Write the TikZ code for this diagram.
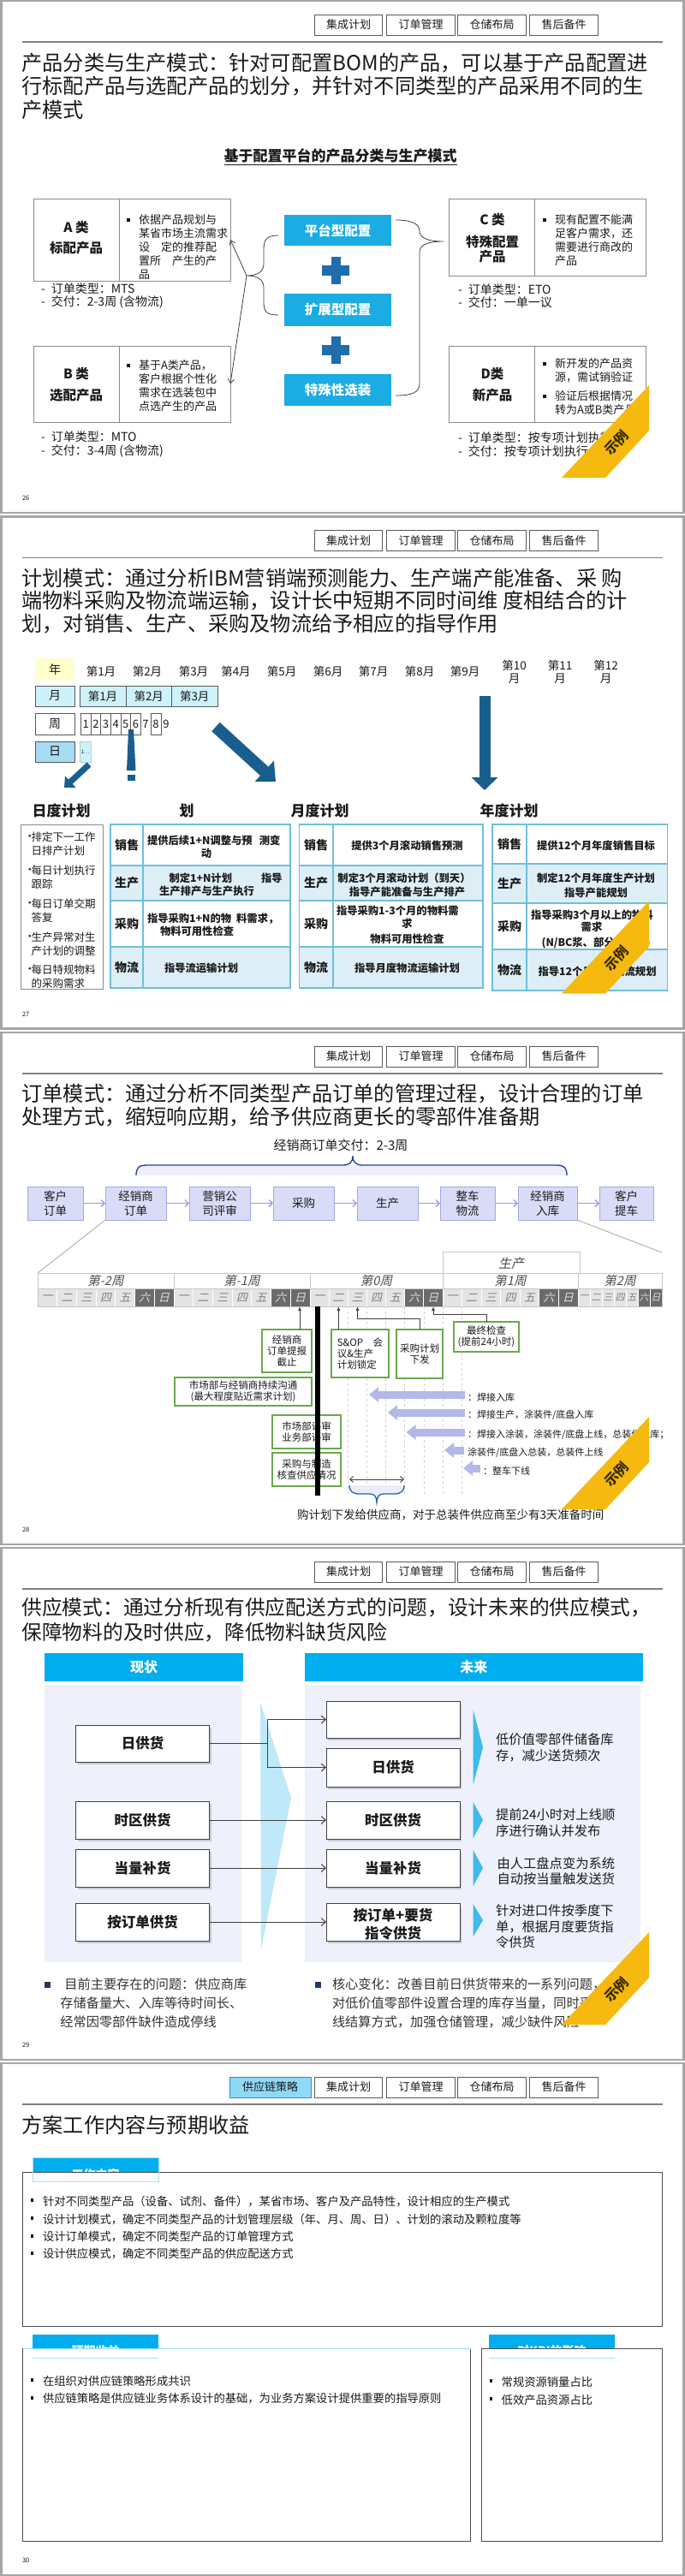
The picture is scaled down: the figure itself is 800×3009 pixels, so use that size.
\documentclass[tikz,border=0pt]{standalone}
\usepackage{fontspec}
\setmainfont{Noto Sans CJK SC}
\newfontfamily\slfont{Noto Sans CJK SC}[FakeSlant=0.22]
\usetikzlibrary{arrows.meta,calc,shadows}
\newcommand\myfs[2]{\fontsize{#1}{#2}\selectfont}
\definecolor{txt}{HTML}{1A1A1A}
\definecolor{tabbd}{HTML}{5A5A5A}
\definecolor{slidebd}{HTML}{A6A6A6}
\definecolor{boxgray}{HTML}{8C8C8C}
\definecolor{cyanbox}{HTML}{1AACE3}
\definecolor{plusblue}{HTML}{1F6CAE}
\definecolor{banner}{HTML}{F5B90F}
\definecolor{bannertxt}{HTML}{3A2A00}
\definecolor{lcyan}{HTML}{CCF2FA}
\definecolor{lyellow}{HTML}{FFFFCC}
\definecolor{dayblue}{HTML}{A7DBF2}
\definecolor{arrblue}{HTML}{1A5D8F}
\definecolor{tblbd}{HTML}{6FBFDB}
\definecolor{tblfill}{HTML}{DDEEF6}
\definecolor{lav}{HTML}{D9DCF6}
\definecolor{lavbd}{HTML}{A3A9E3}
\definecolor{lavarr}{HTML}{B3B8E9}
\definecolor{bracecol}{HTML}{283F93}
\definecolor{grnbd}{HTML}{6AA84F}
\definecolor{daylt}{HTML}{E4E4E4}
\definecolor{daydk}{HTML}{6B6B6B}
\definecolor{hdrblue}{HTML}{00AEEF}
\definecolor{panel}{HTML}{EEF1FB}
\definecolor{chev}{HTML}{BFE9F9}
\definecolor{tri}{HTML}{3DBBEB}
\definecolor{navy}{HTML}{1F3864}
\definecolor{tabsel}{HTML}{8FD9F7}
\definecolor{tabselbd}{HTML}{2E8FC0}
\definecolor{conn}{HTML}{404040}
\begin{document}
\begin{tikzpicture}[x=1pt,y=-1pt,
  every node/.style={inner sep=0pt,outer sep=0pt,text=txt},
  tabbox/.style={draw=tabbd,line width=0.9pt,fill=white,minimum width=79.5pt,minimum height=24pt,font=\myfs{13}{14}},
  ttl/.style={anchor=west,font=\myfs{24.2}{27}},
  gbox/.style={draw=boxgray,line width=0.8pt},
  mylab/.style={font=\myfs{15.5}{17}\bfseries},
  btxt/.style={anchor=west,align=left,font=\myfs{13}{16}},
  subt/.style={anchor=west,align=left,font=\myfs{14}{15.5}},
  cbox/.style={fill=cyanbox,text=white,font=\myfs{15.5}{17}\bfseries,minimum width=125pt},
  mtab/.style={font=\myfs{13.5}{15},align=center},
  cellc/.style={draw=tabbd,line width=0.8pt,font=\myfs{14}{15}},
  thd/.style={font=\myfs{17}{18}\bfseries},
  tlab/.style={font=\myfs{14}{15}\bfseries},
  tcx/.style={font=\myfs{12.3}{15}\bfseries},
  procbox/.style={fill=lav,draw=lavbd,line width=0.8pt,font=\myfs{13.5}{17},align=center,minimum height=39pt},
  gnbox/.style={draw=grnbd,line width=1.6pt,fill=white,font=\myfs{11.5}{13.3},align=center},
  myarr/.style={draw=conn,line width=0.8pt,-{Latex[length=5pt,width=4pt]}},
  lavlbl/.style={anchor=west,font=\myfs{11}{12}},
  hdr/.style={fill=hdrblue,text=white,font=\myfs{16}{17}\bfseries,minimum height=33pt},
  sbox/.style={draw=conn,line width=0.8pt,fill=white,font=\myfs{16.5}{20}\bfseries,align=center,minimum width=156pt,drop shadow={shadow xshift=2pt,shadow yshift=-2.5pt,opacity=0.35}},
  cn/.style={draw=conn,line width=1pt},
  cna/.style={draw=conn,line width=1pt,-{Straight Barb[length=5pt,width=9pt]}},
  rtxt/.style={anchor=west,align=left,font=\myfs{15.3}{18.5}},
  btm/.style={anchor=west,align=left,font=\myfs{15.2}{22},text=black!80},
  wtxt/.style={anchor=west,font=\myfs{13.3}{15}}
]
\fill[white] (0,0) rectangle (800,3009);
\useasboundingbox (0,0) rectangle (800,3009);

% ---------------- common slide frames ----------------
\foreach \T/\p in {0/26,602.5/27,1205/28,1807/29,2409/30}{
  \draw[slidebd,line width=2.5pt] (1.5,\T+1.2) rectangle (798.5,\T+599);
  \node[tabbox] (tabA-\p) at (407,\T+29) {集成计划};
  \node[tabbox] (tabB-\p) at (491.5,\T+29) {订单管理};
  \node[tabbox] (tabC-\p) at (574.5,\T+29) {仓储布局};
  \node[tabbox] (tabD-\p) at (658.5,\T+29) {售后备件};
  \draw[gray,line width=1.5pt] (25.5,\T+49) -- (774,\T+49);
  \node[anchor=west,font=\myfs{7.5}{8}] (pg-\p) at (26,\T+582) {\p};
}

% ================= SLIDE 1 =================
\node[ttl] (t1a) at (25.5,74) {产品分类与生产模式：针对可配置BOM的产品，可以基于产品配置进};
\node[ttl] (t1b) at (25.5,101) {行标配产品与选配产品的划分，并针对不同类型的产品采用不同的生};
\node[ttl] (t1c) at (25.5,128) {产模式};
\node[font=\myfs{17}{18}\bfseries] (s1sub) at (397.5,183) {\underline{基于配置平台的产品分类与生产模式}};

\node[gbox,minimum width=230pt,minimum height=96pt] (boxA) at (154,280) {};
\draw[gbox] (139,232) -- (139,328);
\node[gbox,minimum width=230pt,minimum height=89pt] (boxB) at (154,448.5) {};
\draw[gbox] (139,404) -- (139,493);
\node[gbox,minimum width=230pt,minimum height=90pt] (boxC) at (639.5,277) {};
\draw[gbox] (624,232) -- (624,322);
\node[gbox,minimum width=230pt,minimum height=89pt] (boxD) at (639.5,448.5) {};
\draw[gbox] (624,404) -- (624,493);

\node[mylab] (Aa) at (89,266) {A 类};
\node[mylab] (Ab) at (89,290) {标配产品};
\node[mylab] (Ba) at (89,437) {B 类};
\node[mylab] (Bb) at (89,462) {选配产品};
\node[mylab] (Ca) at (575,257) {C 类};
\node[mylab] (Cb) at (575,283) {特殊配置};
\node[mylab] (Cc) at (575,300) {产品};
\node[mylab] (Da) at (575,437) {D类};
\node[mylab] (Db) at (575,462) {新产品};

\foreach \bx/\by in {150/257,150/427,636/257,636/425,636/463}{
  \fill[txt] (\bx-1.6,\by-1.6) rectangle (\bx+1.6,\by+1.6);
}
\node[btxt] (Atx) at (162,289) {依据产品规划与\\某省市场主流需求\\设\quad 定的推荐配\\置所\quad 产生的产\\品};
\node[btxt] (Btx) at (162,451) {基于A类产品，\\客户根据个性化\\需求在选装包中\\点选产生的产品};
\node[btxt] (Ctx) at (648,281) {现有配置不能满\\足客户需求，还\\需要进行商改的\\产品};
\node[btxt] (Dtx1) at (648,433) {新开发的产品资\\源，需试销验证};
\node[btxt] (Dtx2) at (648,471) {验证后根据情况\\转为A或B类产品};

\node[subt] (Asub) at (48,345.5) {-\hspace{7pt}订单类型：MTS\\-\hspace{7pt}交付：2-3周 (含物流)};
\node[subt] (Bsub) at (48,519) {-\hspace{7pt}订单类型：MTO\\-\hspace{7pt}交付：3-4周 (含物流)};
\node[subt] (Csub) at (535,345.5) {-\hspace{7pt}订单类型：ETO\\-\hspace{7pt}交付：一单一议};
\node[subt] (Dsub) at (535,519) {-\hspace{7pt}订单类型：按专项计划执行\\-\hspace{7pt}交付：按专项计划执行};

\node[cbox,minimum height=36pt] (plat) at (394.5,269) {平台型配置};
\node[cbox,minimum height=38pt] (ext) at (394.5,362) {扩展型配置};
\node[cbox,minimum height=37pt] (spec) at (394.5,455.5) {特殊性选装};
\foreach \cy in {316,409}{
  \fill[plusblue] (386.5,\cy-16) rectangle (397.5,\cy+16);
  \fill[plusblue] (376,\cy-6) rectangle (408,\cy+6);
}
\coordinate (btip) at (288,322);
\draw[conn,line width=0.8pt] (325,275) .. controls (311,275) and (308,280) .. (308,292) -- (308,308)
  .. controls (308,318) and (300,322) .. (btip) .. controls (300,322) and (308,326) .. (308,336)
  -- (308,352) .. controls (308,364) and (311,368) .. (325,368);
\draw[conn,line width=0.8pt] (462,257) .. controls (482,257) and (490,262) .. (490,270)
  .. controls (490,278) and (500,282) .. (518,282) .. controls (500,282) and (490,286) .. (490,294)
  -- (490,448) .. controls (490,458) and (482,462) .. (462,462);
\draw[conn,line width=0.8pt,-{Straight Barb[length=5pt,width=7pt]}] (btip) -- (boxA.east);
\draw[conn,line width=0.8pt,-{Straight Barb[length=5pt,width=7pt]}] (btip) -- (boxB.east);

% ================= SLIDE 2 =================
\node[ttl] (t2a) at (25.5,675) {计划模式：通过分析IBM营销端预测能力、生产端产能准备、采 购};
\node[ttl] (t2b) at (25.5,702) {端物料采购及物流端运输，设计长中短期不同时间维 度相结合的计};
\node[ttl] (t2c) at (25.5,729) {划，对销售、生产、采购及物流给予相应的指导作用};

\node[fill=lyellow,minimum width=46pt,minimum height=26pt,font=\myfs{14}{15}] (yr) at (64,782) {年};
\foreach \mx/\mi in {118/1,172/2,226/3,275.5/4,329/5,383/6,436/7,490/8,543/9}{
  \node[mtab] (mlab\mi) at (\mx,784) {第\mi 月};
}
\node[mtab] (mlab10) at (600.5,784.5) {第10\\月};
\node[mtab] (mlab11) at (654,784.5) {第11\\月};
\node[mtab] (mlab12) at (707.5,784.5) {第12\\月};

\node[cellc,fill=lcyan,minimum width=46pt,minimum height=24pt] (mo) at (64,813) {月};
\node[cellc,fill=lcyan,minimum width=54pt,minimum height=24pt,font=\myfs{13.5}{15}] (mo1) at (120,813) {第1月};
\node[cellc,fill=lcyan,minimum width=53.5pt,minimum height=24pt,font=\myfs{13.5}{15}] (mo2) at (173.75,813) {第2月};
\node[cellc,fill=lcyan,minimum width=53.5pt,minimum height=24pt,font=\myfs{13.5}{15}] (mo3) at (227.25,813) {第3月};
\node[cellc,fill=white,minimum width=46pt,minimum height=25pt] (wk) at (64,845.5) {周};
\foreach \wi in {1,...,6}{
  \node[draw=tabbd,line width=0.7pt,minimum width=11.65pt,minimum height=25pt,font=\myfs{13}{14}] (wk\wi) at (94.4+\wi*11.65-5.8,845.5) {\wi};
}
\node[font=\myfs{13}{14}] (wk7) at (170,845.5) {7};
\node[draw=tabbd,line width=0.7pt,minimum width=11.8pt,minimum height=25pt,font=\myfs{13}{14}] (wk8) at (182,845.5) {8};
\node[font=\myfs{13}{14}] (wk9) at (194,845.5) {9};
\node[cellc,fill=dayblue,minimum width=46pt,minimum height=24pt] (dy) at (64,878) {日};
\node[fill=lcyan,draw=lcyan!70!gray,minimum width=13pt,minimum height=24pt,font=\myfs{6}{7}] (dy1) at (99.5,878) {1…};

\draw[arrblue,line width=7pt,-{Triangle[width=18pt,length=10pt]}] (104,893) -- (75,920);
\fill[arrblue] (150,852) -- (156,852) -- (158.5,900) -- (148,900) -- cycle;
\fill[arrblue] (149,905) rectangle (158,912);
\draw[arrblue,line width=14pt,-{Triangle[width=32pt,length=18pt]}] (252,849) -- (322,913);
\draw[arrblue,line width=13pt,-{Triangle[width=30pt,length=15pt]}] (566,813) -- (566,923);

\node[thd] (h1) at (71.5,947) {日度计划};
\node[thd] (h2) at (218,947) {划};
\node[thd] (h3) at (373.5,947) {月度计划};
\node[thd] (h4) at (594.5,947) {年度计划};

\node[draw=boxgray,line width=1pt,minimum width=96pt,minimum height=192pt] (dbox) at (72,1059) {};
\foreach \ly/\ltx in {978/{排定下一工作\\日排产计划},1017/{每日计划执行\\跟踪},1056/{每日订单交期\\答复},1095/{生产异常对生\\产计划的调整},1133/{每日特规物料\\的采购需求}}{
  \node[anchor=west,font=\myfs{12.5}{15.5}] at (28.5,\ly) {•};
  \node[anchor=west,align=left,font=\myfs{12.5}{15.5}] at (36.7,\ly+7.75) {\ltx};
}

% tables
\fill[tblfill] (129,1011) rectangle (339,1052);
\fill[tblfill] (129,1106) rectangle (339,1154);
\draw[tblbd,line width=1.2pt] (129,963) rectangle (339,1154) (129,1011) -- (339,1011) (129,1052) -- (339,1052) (129,1106) -- (339,1106) (167,963) -- (167,1154);
\fill[tblfill] (349.5,1011) rectangle (564,1052);
\fill[tblfill] (349.5,1106) rectangle (564,1154);
\draw[tblbd,line width=1.2pt] (349.5,963) rectangle (564,1154) (349.5,1011) -- (564,1011) (349.5,1052) -- (564,1052) (349.5,1106) -- (564,1106) (389,963) -- (389,1154);
\fill[tblfill] (575,1009) rectangle (779.6,1055);
\fill[tblfill] (575,1109) rectangle (779.6,1157);
\draw[tblbd,line width=1.2pt] (575,963) rectangle (779.6,1157) (575,1009) -- (779.6,1009) (575,1055) -- (779.6,1055) (575,1109) -- (779.6,1109) (615,963) -- (615,1157);
\foreach \lx in {148,369}{
  \node[tlab] at (\lx,987) {销售};
  \node[tlab] at (\lx,1031.5) {生产};
  \node[tlab] at (\lx,1079) {采购};
  \node[tlab] at (\lx,1130) {物流};
}
\node[tlab] (ys) at (595,986) {销售};
\node[tlab] (yp) at (595,1032) {生产};
\node[tlab] (yc) at (595,1082) {采购};
\node[tlab] (yl) at (595,1133) {物流};

\node[tcx,anchor=west] (w1) at (172,982) {提供后续1+N调整与预\hspace{8pt}测变};
\node[tcx] (w1b) at (241,997) {动};
\node[tcx,anchor=west] (w2) at (197.5,1025.5) {制定1+N计划\hspace{34pt}指导};
\node[tcx] (w2b) at (241.5,1041) {生产排产与生产执行};
\node[tcx,anchor=west] (w3) at (172,1073) {指导采购1+N的物\hspace{6pt}料需求，};
\node[tcx,anchor=west] (w3b) at (187,1088) {物料可用性检查};
\node[tcx,anchor=west] (w4) at (192,1131) {指导流运输计划};

\node[tcx] (m1) at (475.5,988) {提供3个月滚动销售预测};
\node[tcx] (m2) at (472,1026) {制定3个月滚动计划（到天）};
\node[tcx] (m2b) at (475.5,1042) {指导产能准备与生产排产};
\node[tcx,anchor=west] (m3) at (393,1064) {指导采购1-3个月的物料需};
\node[tcx] (m3b) at (475.5,1079) {求};
\node[tcx] (m3c) at (475.5,1096.5) {物料可用性检查};
\node[tcx] (m4) at (475.5,1131) {指导月度物流运输计划};

\node[tcx] (y1) at (696,988) {提供12个月年度销售目标};
\node[tcx] (y2) at (696,1026) {制定12个月年度生产计划};
\node[tcx] (y2b) at (696,1043) {指导产能规划};
\node[tcx,anchor=west] (y3) at (620,1069) {指导采购3个月以上的物料};
\node[tcx] (y3b) at (691,1083) {需求};
\node[tcx] (y3c) at (696,1101) {(N/BC浆、部分进口件)};
\node[tcx,anchor=west] (y4) at (628.6,1135) {指导12个月年度物流规划};

% ================= SLIDE 3 =================
\node[ttl] (t3a) at (25.5,1278) {订单模式：通过分析不同类型产品订单的管理过程，设计合理的订单};
\node[ttl] (t3b) at (25.5,1305) {处理方式，缩短响应期，给予供应商更长的零部件准备期};
\node[font=\myfs{15}{16}] (deliv) at (398,1338) {经销商订单交付：2-3周};
\fill[lav!45] (160,1361) rectangle (661,1373);
\draw[bracecol,line width=1.3pt] (159,1373) .. controls (159,1364) and (162,1361) .. (172,1361) -- (400,1361)
  .. controls (408,1361) and (412,1358) .. (412,1350) .. controls (412,1358) and (416,1361) .. (424,1361)
  -- (650,1361) .. controls (659,1361) and (662,1364) .. (662,1373);

\node[procbox,minimum width=65pt] (p1) at (64.5,1405.5) {客户\\订单};
\node[procbox,minimum width=71pt] (p2) at (158.5,1405.5) {经销商\\订单};
\node[procbox,minimum width=71pt] (p3) at (256.5,1405.5) {营销公\\司评审};
\node[procbox,minimum width=71pt] (p4) at (354.5,1405.5) {采购};
\node[procbox,minimum width=71pt] (p5) at (452.5,1405.5) {生产};
\node[procbox,minimum width=64pt] (p6) at (546,1405.5) {整车\\物流};
\node[procbox,minimum width=69pt] (p7) at (639.5,1405.5) {经销商\\入库};
\node[procbox,minimum width=63pt] (p8) at (731.5,1405.5) {客户\\提车};
\foreach \pa/\pb in {p1/p2,p2/p3,p3/p4,p4/p5,p5/p6,p6/p7,p7/p8}{
  \draw[lavarr!85!blue,line width=1.4pt,-{Straight Barb[length=4pt,width=8pt]}] (\pa) -- (\pb);
}
\coordinate (tlnw) at (44,1487);
\coordinate (tlne) at (773,1463);
\draw[gray!70,line width=0.8pt] (p2.south west) -- (tlnw);
\draw[gray!70,line width=0.8pt] (p7.south east) -- (tlne);

\draw[gray!45,fill=white,line width=0.8pt] (517,1462) rectangle (677,1488);
\node[font=\slfont\myfs{15}{16},text=gray!60!black] (prodlab) at (597,1476) {生产};
\foreach \xl/\xr/\wl/\fz in {44/203/{第-2周}/13,203/362/{第-1周}/13,362/517/{第0周}/13,517/675/{第1周}/13,675/773/{第2周}/11}{
  \draw[gray!45,fill=white,line width=0.8pt] (\xl,1487) rectangle (\xr,1505);
  \node[font=\slfont\myfs{14.5}{15},text=gray!60!black] at ({(\xl+\xr)/2},1496) {\wl};
  \foreach \dn [count=\di from 0] in {一,二,三,四,五,六,日}{
    \pgfmathsetmacro\xa{\xl+\di*(\xr-\xl)/7}
    \pgfmathsetmacro\xb{\xl+(\di+1)*(\xr-\xl)/7}
    \ifnum\di<5 \def\dfill{daylt}\def\dtxt{gray}\else\def\dfill{daydk}\def\dtxt{gray!25}\fi
    \fill[\dfill] (\xa,1505) rectangle (\xb,1526);
    \draw[white,line width=0.8pt] (\xa,1505) -- (\xa,1526);
    \node[font=\slfont\myfs{\fz}{14},text=\dtxt] at ({(\xa+\xb)/2},1515.5) {\dn};
  }
}
\draw[gray!45,line width=0.8pt] (44,1505) rectangle (773,1526);

\foreach \dx in {406.3,428.4,450.6,472.7,494.9,517,539.6}{
  \draw[gray!35,dashed,line width=0.6pt] (\dx,1526) -- (\dx,1745);
}

\node[gnbox,minimum width=58pt,minimum height=50pt] (g1) at (335,1578) {经销商\\订单提报\\截止};
\node[gnbox,minimum width=67pt,minimum height=56pt,align=left] (g2) at (420.5,1581) {S\&OP\quad 会\\议\&生产\\计划锁定};
\node[gnbox,minimum width=54pt,minimum height=57pt] (g3) at (490,1581.5) {采购计划\\下发};
\node[gnbox,minimum width=76.5pt,minimum height=35pt] (g4) at (568,1561.5) {最终检查\\(提前24小时)};
\node[gnbox,minimum width=160pt,minimum height=33pt] (g5) at (284,1625.5) {市场部与经销商持续沟通\\(最大程度贴近需求计划)};
\node[gnbox,minimum width=80pt,minimum height=39pt] (g6) at (358,1672.5) {市场部评审\\业务部评审};
\node[gnbox,minimum width=80pt,minimum height=39pt] (g7) at (358,1716.5) {采购与制造\\核查供应情况};
\fill[black] (368.4,1526) rectangle (374.4,1747);

\coordinate (dA) at (350,1526);
\coordinate (dB) at (395.4,1526);
\coordinate (dC) at (417.5,1526);
\coordinate (dD) at (506,1526);
\draw[myarr] (g1.north -| dA) -- (dA);
\draw[myarr] (g2.north -| dB) -- (dB);
\draw[myarr] (g3.north) -- ++(0,-13) -| (dC);
\draw[myarr] (g4.north) -- ++(0,-9) -| (dD);

\node[lavlbl] (la) at (546,1632) {：焊接入库};
\node[lavlbl] (lb) at (546,1653) {：焊接生产，涂装件/底盘入库};
\node[lavlbl] (lc) at (546,1676) {：焊接入涂装，涂装件/底盘上线，总装件入库；};
\node[lavlbl] (ld) at (546,1697) {涂装件/底盘入总装，总装件上线};
\node[lavlbl] (le) at (564,1718) {：整车下线};
\coordinate (ta) at (431,1629);
\coordinate (tb) at (453,1650);
\coordinate (tc) at (474.5,1673);
\coordinate (td) at (519,1694);
\coordinate (te) at (541,1715);
\draw[lavarr,line width=9pt,-{Triangle[width=17pt,length=11pt]}] (543,1629) -- (ta);
\draw[lavarr,line width=9pt,-{Triangle[width=17pt,length=11pt]}] (543,1650) -- (tb);
\draw[lavarr,line width=9pt,-{Triangle[width=17pt,length=11pt]}] (543,1673) -- (tc);
\draw[lavarr,line width=9pt,-{Triangle[width=17pt,length=11pt]}] (542,1694) -- (td);
\draw[lavarr,line width=9pt,-{Triangle[width=17pt,length=11pt]}] (561,1715) -- (te);

\coordinate (ba) at (408,1728);
\coordinate (bb) at (472,1728);
\draw[conn,line width=0.9pt,{Straight Barb[length=4pt,width=7pt]}-{Straight Barb[length=4pt,width=7pt]}] (ba) -- (bb);
\fill[lav!50] (408,1735) .. controls (408,1742) and (412,1745) .. (420,1745) -- (432,1745)
  .. controls (437,1745) and (440,1748) .. (440,1755) .. controls (440,1748) and (443,1745) .. (448,1745)
  -- (460,1745) .. controls (468,1745) and (472,1742) .. (472,1735) -- cycle;
\draw[bracecol!80!cyan,line width=1.3pt] (408,1735) .. controls (408,1742) and (412,1745) .. (420,1745) -- (432,1745)
  .. controls (437,1745) and (440,1748) .. (440,1755) .. controls (440,1748) and (443,1745) .. (448,1745)
  -- (460,1745) .. controls (468,1745) and (472,1742) .. (472,1735);
\node[anchor=west,font=\myfs{13.5}{15}] (s3foot) at (347,1769) {购计划下发给供应商，对于总装件供应商至少有3天准备时间};

% ================= SLIDE 4 =================
\node[ttl,font=\myfs{23.7}{27}] (t4a) at (25.5,1878) {供应模式：通过分析现有供应配送方式的问题，设计未来的供应模式，};
\node[ttl,font=\myfs{23.7}{27}] (t4b) at (25.5,1907) {保障物料的及时供应，降低物料缺货风险};
\node[hdr,minimum width=232pt] (now) at (168,1947.5) {现状};
\node[hdr,minimum width=394.5pt] (fut) at (553.25,1947.5) {未来};
\fill[panel] (52,1968) rectangle (281.6,2292);
\fill[panel] (356,1968) rectangle (748,2292);
\fill[chev] (304,1988) -- (340,2100) -- (305,2277) -- cycle;

\node[sbox,minimum height=43pt] (l1) at (166.5,2036.5) {日供货};
\node[sbox,minimum height=44pt] (l2) at (166.5,2126) {时区供货};
\node[sbox,minimum height=44pt] (l3) at (166.5,2182) {当量补货};
\node[sbox,minimum height=44pt] (l4) at (166.5,2245) {按订单供货};
\node[sbox,minimum height=43pt] (r0) at (459,2008.5) {};
\node[sbox,minimum height=45pt] (r1) at (459,2064.5) {日供货};
\node[sbox,minimum height=44pt] (r2) at (459,2126) {时区供货};
\node[sbox,minimum height=44pt] (r3) at (459,2182) {当量补货};
\node[sbox,minimum height=44pt] (r4) at (459,2245) {};
\node[font=\myfs{16.5}{21}\bfseries,align=center] (r4t) at (459,2247.5) {按订单+要货\\指令供货};

\coordinate (jn) at (312,2036.5);
\draw[cn] (l1.east) -- (jn);
\draw[cna] (jn) |- (r0.west);
\draw[cna] (jn) |- (r1.west);
\draw[cna] (l2) -- (r2);
\draw[cna] (l3) -- (r3);
\draw[cna] (l4) -- (r4);

\fill[tri] (552.6,1997) -- (564,2041) -- (552.6,2085) -- cycle;
\fill[tri] (552.6,2105) -- (564,2126) -- (552.6,2147) -- cycle;
\fill[tri] (552.6,2161) -- (564,2182) -- (552.6,2203) -- cycle;
\fill[tri] (552.6,2224) -- (564,2243) -- (552.6,2262) -- cycle;
\node[rtxt] (rt1) at (579,2041.5) {低价值零部件储备库\\存，减少送货频次};
\node[rtxt] (rt2) at (579,2129) {提前24小时对上线顺\\序进行确认并发布};
\node[rtxt] (rt3) at (580.5,2185.5) {由人工盘点变为系统\\自动按当量触发送货};
\node[rtxt] (rt4) at (579,2250.5) {针对进口件按季度下\\单，根据月度要货指\\令供货};

\fill[navy] (51.5,2314.5) rectangle (58.5,2321.5);
\node[btm] (bl) at (70.4,2340) {\hspace*{5pt}目前主要存在的问题：供应商库\\存储备量大、入库等待时间长、\\经常因零部件缺件造成停线};
\fill[navy] (368,2314.5) rectangle (375,2321.5);
\node[btm] (br) at (388,2340) {核心变化：改善目前日供货带来的一系列问题，\\对低价值零部件设置合理的库存当量，同时采用上\\线结算方式，加强仓储管理，减少缺件风险};

% ================= SLIDE 5 =================
\node[tabbox,fill=tabsel,draw=tabselbd,minimum width=95pt] (tabS) at (315.5,2438) {供应链策略};
\node[ttl] (t5a) at (25.5,2482) {方案工作内容与预期收益};

\fill[hdrblue] (38,2520) rectangle (185,2537);
\node[text=white,font=\myfs{14}{15}\bfseries] (wc) at (111.5,2540) {工作内容};
\draw[gray!60!black,fill=white,line width=1pt] (26.5,2537) rectangle (773.5,2717);
\draw[cyan!35,line width=0.8pt] (38,2520) rectangle (185,2548);
\foreach \wy/\wt in {2571/{针对不同类型产品（设备、试剂、备件），某省市场、客户及产品特性，设计相应的生产模式},2592/{设计计划模式，确定不同类型产品的计划管理层级（年、月、周、日）、计划的滚动及颗粒度等},2613/{设计订单模式，确定不同类型产品的订单管理方式},2633/{设计供应模式，确定不同类型产品的供应配送方式}}{
  \fill[txt] (36,\wy-3) rectangle (38.5,\wy+0.5);
  \node[wtxt] at (50,\wy) {\wt};
}

\fill[hdrblue] (38,2727) rectangle (185,2743);
\node[text=white,font=\myfs{14}{15}\bfseries] (yq) at (111.5,2746) {预期收益};
\draw[gray!60!black,fill=white,line width=1pt] (26.5,2743) rectangle (549.5,2968);
\draw[cyan!40,line width=1pt] (26.5,2743) -- (549.5,2743);
\draw[cyan!35,line width=0.8pt] (38,2754) -- (185,2754);
\fill[txt] (36,2778) rectangle (38.5,2781.5);
\node[wtxt] (yq1) at (50,2781) {在组织对供应链策略形成共识};
\fill[txt] (36,2799) rectangle (38.5,2802.5);
\node[wtxt] (yq2) at (50,2802) {供应链策略是供应链业务体系设计的基础，为业务方案设计提供重要的指导原则};

\fill[hdrblue] (571,2727) rectangle (718,2743);
\node[text=white,font=\myfs{14}{15}\bfseries] (kpi) at (644.5,2746) {对KPI的影响};
\draw[gray!60!black,fill=white,line width=1pt] (562,2743) rectangle (773.5,2968);
\draw[cyan!35,line width=0.8pt] (571,2754) -- (718,2754);
\fill[txt] (572,2779) rectangle (574.5,2782.5);
\node[wtxt] (k1) at (585.7,2782) {常规资源销量占比};
\fill[txt] (572,2800) rectangle (574.5,2803.5);
\node[wtxt] (k2) at (585.7,2803) {低效产品资源占比};

% ---------------- banners ----------------
\foreach \T/\q in {0/a,602.5/b,1205/c,1807/d}{
  \fill[banner] (758,\T+450) -- (758,\T+503) -- (707,\T+558) -- (656,\T+558) -- cycle;
  \node[rotate=47,font=\myfs{16}{16}\bfseries,text=bannertxt] (ban-\q) at (720,\T+517) {示例};
}
\end{tikzpicture}
\end{document}
